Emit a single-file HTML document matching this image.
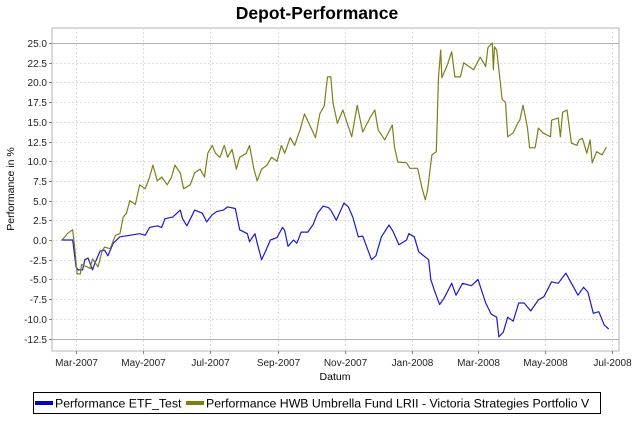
<!DOCTYPE html>
<html><head><meta charset="utf-8">
<style>
html,body{margin:0;padding:0;background:#fff;}
body{width:640px;height:431px;overflow:hidden;font-family:"Liberation Sans",sans-serif;}
svg text{font-family:"Liberation Sans",sans-serif;}
</style></head>
<body>
<svg id="chart" width="640" height="431" viewBox="0 0 640 431" xmlns="http://www.w3.org/2000/svg">
  <text x="317" y="19" text-anchor="middle" font-size="17.5" font-weight="bold" fill="#000">Depot-Performance</text>
  <rect x="52" y="28" width="567" height="323" fill="#fff" stroke="#b4b4b4" stroke-width="1"/>
  <g id="grid"></g>
  <g id="yticks"></g>
  <g id="xticks"></g>
  <g id="series"></g>
  <text transform="translate(14,189) rotate(-90)" text-anchor="middle" font-size="10.5" fill="#000">Performance in %</text>
  <text x="335" y="380" text-anchor="middle" font-size="10.5" fill="#000">Datum</text>
  <g>
    <rect x="33.5" y="392.5" width="567" height="21" fill="#fff" stroke="#000" stroke-width="1"/>
    <rect x="35" y="401" width="18" height="4" fill="#0000cc"/>
    <text x="55" y="407.5" font-size="12.3" fill="#000">Performance ETF_Test</text>
    <rect x="186" y="401" width="18" height="4" fill="#808010"/>
    <text x="206" y="407.5" font-size="12.3" fill="#000">Performance HWB Umbrella Fund LRII - Victoria Strategies Portfolio V</text>
  </g>
</svg>
<script>
// days since 2007-01-01, value in %
const yTicks = [-12.5,-10,-7.5,-5,-2.5,0,2.5,5,7.5,10,12.5,15,17.5,20,22.5,25];
const xTickDays = [59,120,181,243,304,365,425,486,547];
const xTickLabels = ["Mar-2007","May-2007","Jul-2007","Sep-2007","Nov-2007","Jan-2008","Mar-2008","May-2008","Jul-2008"];
const etfSeries = [[46,0],[56,0],[59,-3.4],[61,-3.8],[65,-3.8],[67,-2.5],[70,-2.3],[74,-3.8],[76,-3],[81,-1.4],[85,-1.3],[88,-2],[93,-0.4],[99,0.4],[108,0.6],[117,0.8],[122,0.6],[126,1.6],[133,1.8],[137,1.6],[140,2.7],[147,2.9],[154,3.8],[156,2.7],[160,1.8],[165,3.2],[167,3.8],[174,3.4],[178,2.3],[183,3.2],[187,3.6],[193,3.8],[197,4.2],[204,4],[208,1.3],[215,0.8],[217,-0.2],[222,0.8],[224,-0.4],[228,-2.5],[231,-1.6],[236,0],[242,0.3],[247,1.6],[249,1.2],[252,-0.8],[257,0],[260,-0.4],[264,1],[270,1],[275,2],[279,3.4],[284,4.3],[289,4.1],[291,3.8],[296,2.5],[303,4.7],[307,4.2],[311,2.9],[316,0.4],[320,0.5],[328,-2.5],[332,-2],[337,0.4],[344,1.9],[348,1],[353,-0.6],[360,0],[362,0.8],[367,0.4],[371,-1.5],[380,-2.5],[382,-5],[385,-6.3],[390,-8.2],[394,-7.4],[401,-5.5],[405,-7],[411,-5.5],[419,-5.8],[425,-5],[432,-8],[437,-9.4],[442,-9.8],[444,-12.3],[448,-11.7],[452,-9.8],[457,-10.3],[462,-8],[467,-8],[473,-9],[480,-7.6],[485,-7.2],[492,-5.3],[498,-5.5],[505,-4.2],[510,-5.5],[516,-7],[521,-6],[525,-6.6],[530,-9.3],[535,-9.1],[540,-10.8],[544,-11.3]];
const hwbSeries = [[46,0],[49,0.4],[51,0.8],[54,1.1],[56,1.3],[58,-1.2],[60,-4.3],[63,-4.3],[64,-3.1],[69,-3.4],[72,-3.6],[74,-2.4],[79,-3.4],[83,-1.3],[85,-0.9],[90,-1.1],[95,0.6],[99,0.8],[102,2.9],[105,3.4],[108,5],[113,4.5],[117,7],[122,6.5],[126,8],[129,9.5],[133,7.5],[137,8],[142,7],[146,8],[149,9.5],[154,8.5],[157,6.5],[163,7],[167,8.5],[172,9],[176,8],[179,11],[183,12],[186,11],[190,10.5],[194,12],[197,10.5],[201,11.5],[205,9],[208,10.5],[214,11],[217,12],[221,9],[224,7.5],[228,9],[233,9.5],[237,10.5],[242,10],[246,12],[249,11],[254,13],[258,12],[263,14],[267,16],[272,14.5],[277,13],[281,16],[285,17],[288,20.7],[291,20.7],[293,17.4],[297,14.8],[302,16.5],[310,13.1],[315,17.1],[320,13.7],[327,15.6],[331,16.5],[334,14],[340,12.7],[347,14.6],[349,11.8],[352,9.9],[360,9.8],[363,9.1],[370,9.1],[374,6.6],[377,5.1],[379,6.3],[383,10.8],[387,11.2],[389,20.7],[391,24.1],[392,20.6],[397,22.2],[401,23.9],[404,20.7],[409,20.7],[412,22.5],[421,21.6],[427,23.2],[432,22],[434,24.4],[438,25],[439,21.6],[440,24.5],[442,24.1],[447,17.8],[450,17.5],[452,13.1],[457,13.6],[461,14.8],[463,15.2],[466,17.1],[470,14.3],[472,11.7],[477,11.7],[480,14.2],[484,13.6],[491,13.1],[492,15.2],[498,15.5],[500,13.1],[502,16.2],[506,16.5],[510,12.3],[515,12],[517,12.7],[520,12.9],[524,11],[527,12.7],[529,9.8],[533,11.2],[538,10.8],[542,11.8]];

const NS = "http://www.w3.org/2000/svg";
const PL = 52, PR = 619, PT = 28, PB = 351;
function xScale(d){ return 76 + (d - 59) * 1.0984; }
function yScale(v){ return 240 - v * 7.88; }

const grid = document.getElementById('grid');
const yg = document.getElementById('yticks');
const xg = document.getElementById('xticks');
const sg = document.getElementById('series');

yTicks.forEach(function(t){
  const y = Math.round(yScale(t)) + 0.5;
  const gl = document.createElementNS(NS,'line');
  
  
  gl.setAttribute('x1',PL); gl.setAttribute('x2',PR); gl.setAttribute('y1',y); gl.setAttribute('y2',y);
  const marker = (t === 25 || t === -12.5);
  gl.setAttribute('stroke', marker ? '#b0b0b0' : '#dcdcdc');
  if (!marker) gl.setAttribute('stroke-dasharray','2,2');
  grid.appendChild(gl);
  const tk = document.createElementNS(NS,'line');
  
  
  tk.setAttribute('x1',PL-3); tk.setAttribute('x2',PL); tk.setAttribute('y1',y); tk.setAttribute('y2',y);
  tk.setAttribute('stroke','#888');
  yg.appendChild(tk);
  const tx = document.createElementNS(NS,'text');
  
  
  tx.setAttribute('x',PL-5); tx.setAttribute('y',y+3.5);
  tx.setAttribute('text-anchor','end'); tx.setAttribute('font-size','10'); tx.setAttribute('fill','#222');
  tx.textContent = t.toFixed(1);
  yg.appendChild(tx);
});

xTickDays.forEach(function(d,i){
  const x = Math.round(xScale(d)) + 0.5;
  const gl = document.createElementNS(NS,'line');
  
  
  gl.setAttribute('x1',x); gl.setAttribute('x2',x); gl.setAttribute('y1',PT); gl.setAttribute('y2',PB);
  gl.setAttribute('stroke','#dcdcdc'); gl.setAttribute('stroke-dasharray','2,2');
  grid.appendChild(gl);
  const tk = document.createElementNS(NS,'line');
  
  
  tk.setAttribute('x1',x); tk.setAttribute('x2',x); tk.setAttribute('y1',PB); tk.setAttribute('y2',PB+3);
  tk.setAttribute('stroke','#888');
  xg.appendChild(tk);
  const tx = document.createElementNS(NS,'text');
  
  
  tx.setAttribute('x',x); tx.setAttribute('y',PB+15);
  tx.setAttribute('text-anchor','middle'); tx.setAttribute('font-size','10'); tx.setAttribute('fill','#222');
  tx.textContent = xTickLabels[i];
  xg.appendChild(tx);
});

function drawSeries(data, color, name){
  const p = document.createElementNS(NS,'polyline');
  
  
  p.setAttribute('points', data.map(function(pt){ return xScale(pt[0]).toFixed(1)+','+yScale(pt[1]).toFixed(1); }).join(' '));
  p.setAttribute('fill','none'); p.setAttribute('stroke',color); p.setAttribute('stroke-width','1.2');
  p.setAttribute('stroke-linejoin','round');
  sg.appendChild(p);
}
drawSeries(etfSeries,'#1a1acc','series-etf-test');
drawSeries(hwbSeries,'#7f7f1a','series-hwb-umbrella');
</script>
</body></html>
